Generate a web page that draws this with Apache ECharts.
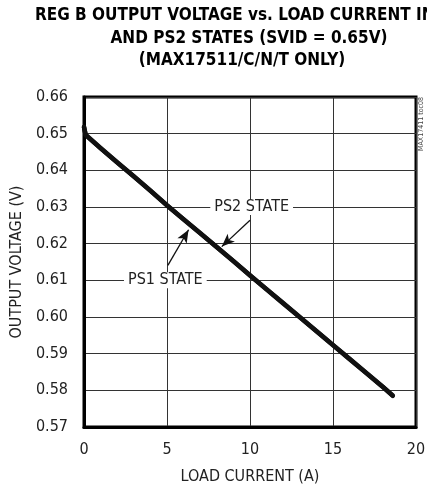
<!DOCTYPE html>
<html>
<head>
<meta charset="utf-8">
<script src="https://cdn.jsdelivr.net/npm/echarts@6/dist/echarts.min.js"></script>
<style>
html,body{margin:0;padding:0;background:#fff;}
#chart{width:427px;height:486px;}
</style>
</head>
<body>
<div id="chart"></div>
<script>
// ---- data ----
var titleLines = ['REG B OUTPUT VOLTAGE vs. LOAD CURRENT IN', 'AND PS2 STATES (SVID = 0.65V)', '(MAX17511/C/N/T ONLY)'];
var xAxisName = 'LOAD CURRENT (A)';
var yAxisName = 'OUTPUT VOLTAGE (V)';
var sideNote = 'MAX17411 toc08';
var loadCurrent = [0, 0.1, 1, 2, 3, 4, 5, 6, 7, 8, 9, 10, 11, 12, 13, 14, 15, 16, 17, 18, 18.6];
var ps1Voltage = [0.6518, 0.6496, 0.6460, 0.6421, 0.6383, 0.6344, 0.6304, 0.6266, 0.6228, 0.6190, 0.6152, 0.6113, 0.6075, 0.6037, 0.5999, 0.5961, 0.5923, 0.5885, 0.5847, 0.5809, 0.5785];
var ps2Voltage = [0.6518, 0.6497, 0.6461, 0.6422, 0.6384, 0.6345, 0.6305, 0.6267, 0.6229, 0.6191, 0.6153, 0.6114, 0.6076, 0.6038, 0.6000, 0.5962, 0.5924, 0.5886, 0.5848, 0.5810, 0.5786];
var xTicks = [0, 5, 10, 15, 20];
var yTicks = [0.57, 0.58, 0.59, 0.60, 0.61, 0.62, 0.63, 0.64, 0.65, 0.66];
// annotation anchors in data units
var ps2Label = {text: 'PS2 STATE', at: [10.1, 0.63], arrowFrom: [10.0, 0.6264], arrowTo: [8.3, 0.6192]};
var ps1Label = {text: 'PS1 STATE', at: [4.9, 0.61], arrowFrom: [5.05, 0.6141], arrowTo: [6.3, 0.6238]};

var narrow = '"Liberation Sans Narrow", "DejaVu Sans Condensed", "Liberation Sans", sans-serif';
var heavy = '"DejaVu Sans Condensed", "Liberation Sans Narrow", sans-serif';

function pairs(xs, ys){ return xs.map(function(x,i){ return [x, ys[i]]; }); }

var chart = echarts.init(document.getElementById('chart'), null, {renderer:'canvas'});
var titleStyle = {fontFamily: heavy, fontWeight:'bold', fontSize:17, color:'#000'};
var option = {
  animation: false,
  backgroundColor: '#fff',
  title: [
    {text: titleLines[0], left: 35, top: 7, padding: 0, textStyle: titleStyle},
    {text: titleLines[1], left: 249, textAlign: 'center', top: 30, padding: 0, textStyle: titleStyle},
    {text: titleLines[2], left: 242, textAlign: 'center', top: 52, padding: 0, textStyle: titleStyle}
  ],
  grid: {left: 84, top: 97, right: 11, bottom: 59, containLabel: false, outerBoundsMode: 'none',
         show: true, borderColor:'#000', borderWidth: 3, backgroundColor:'transparent'},
  xAxis: {
    type: 'value', min: xTicks[0], max: xTicks[xTicks.length-1], interval: 5,
    name: xAxisName, nameLocation: 'middle', nameGap: 42,
    nameTextStyle: {fontFamily: narrow, fontSize: 16, color:'#222'},
    axisLine: {show: true, lineStyle:{color:'#000', width:3}},
    axisTick: {show:false},
    axisLabel: {margin: 15, fontFamily: narrow, fontSize: 16, color:'#222'},
    splitLine: {show:true, lineStyle:{color:'#333', width:1}}
  },
  yAxis: {
    type: 'value', min: yTicks[0], max: yTicks[yTicks.length-1], interval: 0.01,
    name: yAxisName, nameLocation: 'middle', nameGap: 50,
    nameTextStyle: {fontFamily: narrow, fontSize: 16, color:'#222'},
    axisLine: {show: true, lineStyle:{color:'#000', width:3}},
    axisTick: {show:false},
    axisLabel: {margin: 16, fontFamily: narrow, fontSize: 16, color:'#222', formatter: function(v){ return v.toFixed(2); }},
    splitLine: {show:true, lineStyle:{color:'#333', width:1}}
  },
  graphic: [
    {type:'text', left: 418, top: 97, rotation: Math.PI/2, style:{text: sideNote, fontFamily: narrow, fontSize: 7, fill:'#444'}}
  ],
  series: [
    {
      name: 'PS1 STATE', type: 'line', data: pairs(loadCurrent, ps1Voltage),
      showSymbol: false, symbol:'none', lineStyle: {color:'#111', width: 4.5, cap:'round', join:'round'}, z: 3,
      markPoint: {
        symbol: 'circle', symbolSize: 0,
        label: {show: true, position: 'inside', fontFamily: narrow, fontSize: 16, color:'#222', backgroundColor:'#fff', padding:[0,4]},
        data: [
          {coord: ps1Label.at, label:{formatter: ps1Label.text}},
          {coord: ps2Label.at, label:{formatter: ps2Label.text}}
        ]
      },
      markLine: {
        silent: true, symbol: ['none','arrow'], symbolSize: [8, 13],
        label: {show:false},
        lineStyle: {color:'#111', width: 1.3, type:'solid'},
        data: [
          [{coord: ps1Label.arrowFrom}, {coord: ps1Label.arrowTo}],
          [{coord: ps2Label.arrowFrom}, {coord: ps2Label.arrowTo}]
        ]
      }
    },
    {
      name: 'PS2 STATE', type: 'line', data: pairs(loadCurrent, ps2Voltage),
      showSymbol: false, symbol:'none', lineStyle: {color:'#111', width: 4.5, cap:'round', join:'round'}, z: 3
    }
  ]
};
chart.setOption(option);
</script>
</body>
</html>
